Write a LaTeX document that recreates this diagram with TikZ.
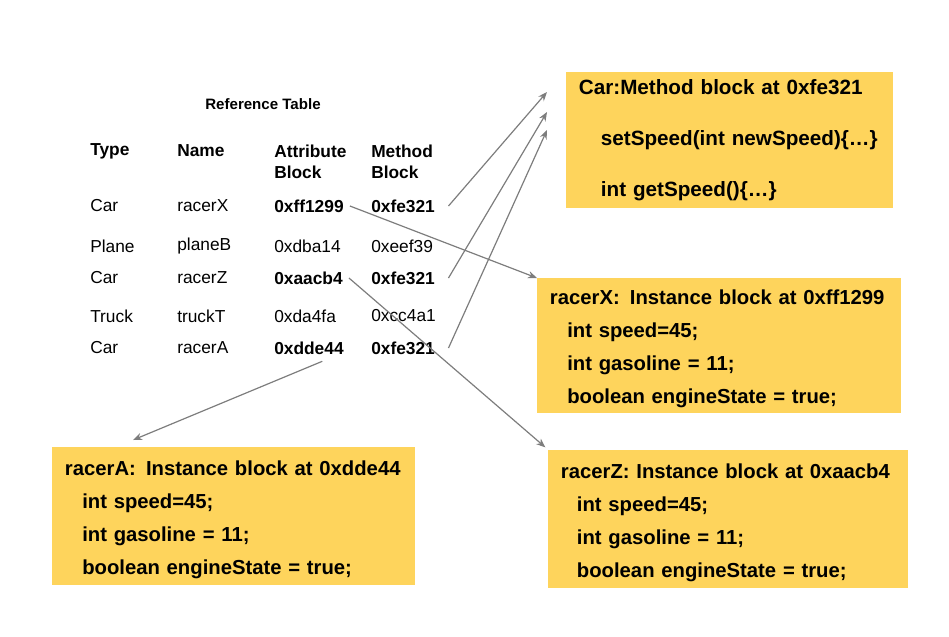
\documentclass[tikz,border=0pt]{standalone}
\usepackage{fontspec}
\setmainfont{Liberation Sans}
\usepackage{tikz}
\usetikzlibrary{arrows.meta,positioning}
\usepackage{xcolor}
\definecolor{blkyellow}{RGB}{254,212,92}
\definecolor{arrgray}{RGB}{125,125,125}
\newcommand{\tabfont}{\fontsize{13}{15.75}\selectfont}
\newcommand{\blkfont}{\fontsize{15.2}{24.75}\selectfont\bfseries}
\newcommand{\toppad}{\rule{0pt}{16pt}}

\begin{document}
\begin{tikzpicture}[x=0.75pt,y=-0.75pt]
\tikzset{
  cell/.style={anchor=west,font=\tabfont,align=left,inner xsep=0pt,inner ysep=4pt},
  head/.style={cell,font=\tabfont\bfseries},
  blk/.style={fill=blkyellow,anchor=north west,align=left,inner xsep=9.5pt,inner ysep=0pt,font=\blkfont},
  arr/.style={-{Stealth[length=2.4mm,width=1.9mm]},line width=0.9pt,draw=arrgray}
}
\useasboundingbox (0,0) rectangle (949,636);
% reference table
\node(title)[font=\fontsize{11.3}{13}\selectfont\bfseries] at (263,104){Reference Table};
\node(ty)[head] at (90,151){Type};
\node(nm)[head] at (177,151){Name};
\node(ab)[head] at (274,161.5){Attribute\\Block};
\node(mb)[head] at (371,161.5){Method\\Block};
\node(ty1)[cell] at (90,206){Car};   \node(nm1)[cell] at (177,206){racerX};
\node(ab1)[head] at (274,206){0xff1299}; \node(mb1)[head] at (371,206){0xfe321};
\node(ty2)[cell] at (90,246){Plane}; \node(nm2)[cell] at (177,246){planeB};
\node(ab2)[cell] at (274,246){0xdba14};  \node(mb2)[cell] at (371,246){0xeef39};
\node(ty3)[cell] at (90,278){Car};   \node(nm3)[cell] at (177,278){racerZ};
\node(ab3)[head] at (274,278){0xaacb4};  \node(mb3)[head] at (371,278){0xfe321};
\node(ty4)[cell] at (90,316){Truck}; \node(nm4)[cell] at (177,316){truckT};
\node(ab4)[cell] at (274,316){0xda4fa};  \node(mb4)[cell] at (371,316){0xcc4a1};
\node(ty5)[cell] at (90,348){Car};   \node(nm5)[cell] at (177,348){racerA};
\node(ab5)[head] at (274,348){0xdde44};  \node(mb5)[head] at (371,348){0xfe321};
% memory blocks
\node(meth)[blk,text width=226pt,minimum height=102pt,font=\fontsize{15.5}{38}\selectfont\bfseries] at (566,72)
  {Car:Method block at 0xfe321\\\hspace*{16.5pt}setSpeed(int newSpeed)\{…\}\\\hspace*{16.5pt}int getSpeed()\{…\}};
\node(inX)[blk,text width=254pt,minimum height=101pt] at (537,278)
  {\toppad\mbox{racerX:\enspace Instance block at 0xff1299}\\\hspace*{13pt}int speed=45;\\\hspace*{13pt}int gasoline = 11;\\\hspace*{13pt}boolean engineState = true;};
\node(inA)[blk,text width=253pt,minimum height=103.5pt] at (52,447)
  {\toppad\mbox{racerA:\enspace Instance block at 0xdde44}\\\hspace*{13pt}int speed=45;\\\hspace*{13pt}int gasoline = 11;\\\hspace*{13pt}boolean engineState = true;};
\node(inZ)[blk,text width=251pt,minimum height=103.5pt] at (548,450)
  {\toppad\mbox{racerZ: Instance block at 0xaacb4}\\\hspace*{12pt}int speed=45;\\\hspace*{12pt}int gasoline = 11;\\\hspace*{12pt}boolean engineState = true;};
\coordinate(t1) at (547,92); \coordinate(t2) at (547,112); \coordinate(t3) at (547,130);
\coordinate(tA) at (133,440);
\draw[arr]([xshift=10pt]mb1.east)--(t1); \draw[arr]([xshift=10pt]mb3.east)--(t2); \draw[arr]([xshift=10pt]mb5.east)--(t3);
\draw[arr]([xshift=4.5pt]ab1.east)--(inX.north west); \draw[arr]([xshift=4.5pt]ab3.east)--([xshift=-2pt,yshift=2pt]inZ.north west);
\draw[arr]([xshift=10pt,yshift=-1pt]ab5.south)--(tA);
\end{tikzpicture}
\end{document}
